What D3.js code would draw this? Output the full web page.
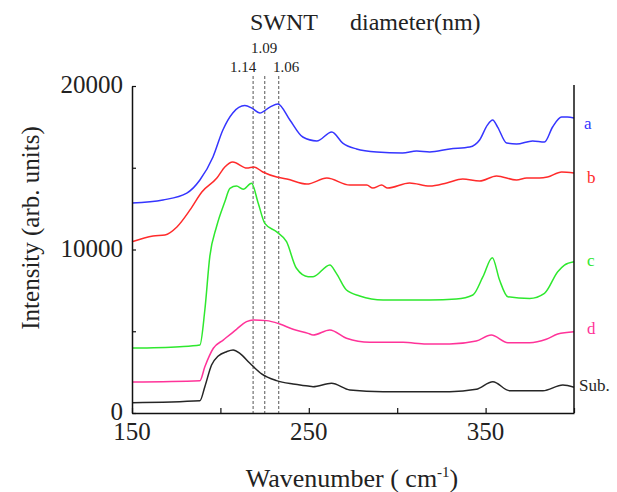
<!DOCTYPE html>
<html>
<head>
<meta charset="utf-8">
<script src="https://cdn.jsdelivr.net/npm/d3@7"></script>
<style>
  body { margin: 0; background: #fff; }
  text { font-family: "Liberation Serif", "Times New Roman", serif; fill: #222; }
</style>
</head>
<body>
<svg id="chart" width="617" height="492"></svg>
<script>
// DATA: wavenumber (cm-1) / intensity pairs
var specA = [[150,12840],[167.5,13030],[181,13450],[188.4,14250],[195.8,15660],[201.4,17310],[207,18350],[213.8,18800],[217.8,18650],[222.3,18350],[228,18710],[232.5,18900],[239.3,17920],[246.6,16880],[254.5,16640],[263,17190],[269.2,16510],[277,16150],[288.4,15960],[303,15900],[311,16020],[318.4,15960],[329.7,16150],[341,16270],[346.6,16700],[351,17610],[354,17920],[356.8,17490],[361.9,16510],[367.5,16450],[376.6,16640],[383.3,16570],[387.9,17490],[393,18100],[396.3,18100],[400,18040]];
var specB = [[150,10470],[161.9,10830],[168.6,10890],[175.4,11380],[182.8,12420],[189.5,13520],[198,14370],[202.5,15050],[207,15350],[215,14980],[218.9,15050],[224,14740],[231.9,14430],[237.6,14310],[248.9,14000],[260.2,14370],[273.2,13940],[282.8,13940],[286.2,13760],[291.2,13940],[294.6,13760],[307,14070],[318.4,13880],[328,14070],[337,14310],[346.6,14190],[356.2,14500],[367.5,14250],[373.2,14370],[380.5,14370],[385,14430],[393,14740],[400,14680]];
var specC = [[150,3970],[177,4055],[188.4,4160],[191.2,6300],[194,9560],[197.8,11390],[202.5,12920],[205.4,13740],[209.1,13880],[212.9,13680],[217.6,14050],[221.4,12830],[225.1,11600],[231.7,11090],[237.4,10480],[243,8850],[249.6,8340],[252.4,8340],[261.9,9050],[265.6,8540],[271.3,7520],[278.8,7160],[292,6910],[318.4,6910],[333.4,6970],[342.8,7220],[348.5,8340],[353.8,9500],[357.9,8130],[362.6,7110],[374.9,7010],[383.3,7320],[390.8,8640],[394.6,9050],[400,9250]];
var specD = [[150,1900],[188.4,1980],[191.2,2830],[196,3960],[201.6,4460],[209.1,5120],[214.8,5590],[218.5,5690],[226.1,5650],[233.6,5440],[241.1,5120],[249.6,4870],[252.4,4770],[261.9,5080],[271.3,4570],[284.5,4320],[303.3,4320],[316.5,4220],[329.7,4220],[344.7,4400],[353.2,4770],[362.6,4300],[374.9,4300],[384.3,4510],[390.8,4830],[400,4970]];
var specSub = [[150,630],[188.4,750],[191.2,1610],[195,2940],[198.8,3490],[203.5,3750],[207.2,3850],[211,3650],[216.7,3040],[223.3,2390],[231.7,1980],[241.1,1770],[249.6,1650],[252.4,1610],[262.8,1820],[273.2,1410],[292,1300],[329.7,1300],[344.7,1450],[354.1,1910],[363.6,1360],[382.4,1360],[393.7,1710],[400,1570]];

var seriesNames = ["a", "b", "c", "d", "Sub."];
var seriesColors = ["#3535ff", "#ff2b2b", "#2ee82e", "#ff3399", "#262626"];
var seriesData = [specA, specB, specC, specD, specSub];

var diameters = ["1.14", "1.09", "1.06"];
var rbmPositions = [218.5, 225.1, 233];

var xTicks = [150, 200, 250, 300, 350, 400];
var xLabels = [150, 250, 350];
var yTicks = [0, 5000, 10000, 15000, 20000];
var yLabels = [0, 10000, 20000];

// SETUP
var svg = d3.select("#chart"),
    margin = {top: 86, right: 43, bottom: 79, left: 132},
    width = 617 - margin.left - margin.right,
    height = 492 - margin.top - margin.bottom;

var x = d3.scaleLinear().domain([150, 400]).range([margin.left, margin.left + width]);
var y = d3.scaleLinear().domain([0, 20000]).range([margin.top + height, margin.top]);

var line = d3.line()
    .x(function(d) { return x(d[0]); })
    .y(function(d) { return y(d[1]); })
    .curve(d3.curveMonotoneX);

// dashed marker lines for the RBM positions
svg.selectAll(".rbm")
    .data(rbmPositions)
  .enter().append("line")
    .attr("class", "rbm")
    .attr("x1", function(d) { return x(d); })
    .attr("x2", function(d) { return x(d); })
    .attr("y1", 76)
    .attr("y2", y(0))
    .attr("stroke", "#555")
    .attr("stroke-width", 1)
    .attr("stroke-dasharray", "3,2");

// spectra
svg.selectAll(".spec")
    .data(seriesData)
  .enter().append("path")
    .attr("class", "spec")
    .attr("fill", "none")
    .attr("stroke", function(d, i) { return seriesColors[i]; })
    .attr("stroke-width", 1.5)
    .attr("d", line);

// series labels at right
var labelY = [129, 183, 266, 334, 391];
var labelX = [584, 587, 587, 587, 579];
svg.selectAll(".slabel")
    .data(seriesNames)
  .enter().append("text")
    .attr("class", "slabel")
    .attr("x", function(d, i) { return labelX[i]; })
    .attr("y", function(d, i) { return labelY[i]; })
    .style("fill", function(d, i) { return seriesColors[i]; })
    .style("font-size", "17px")
    .text(function(d) { return d; });

// axes
var xAxis = svg.append("g")
    .attr("transform", "translate(0," + y(0) + ")")
    .call(d3.axisBottom(x).tickValues(xTicks).tickSizeInner(-5).tickSizeOuter(0).tickFormat(""));
var yAxis = svg.append("g")
    .attr("transform", "translate(" + x(150) + ",0)")
    .call(d3.axisLeft(y).tickValues(yTicks).tickSizeInner(-4).tickSizeOuter(0).tickFormat(""));
svg.selectAll(".domain").attr("stroke", "#111").attr("stroke-width", 1.5);
svg.selectAll(".tick line").attr("stroke", "#111").attr("stroke-width", 1.2);

// right frame line
svg.append("line")
    .attr("x1", x(400)).attr("x2", x(400))
    .attr("y1", y(20000) - 1).attr("y2", y(0))
    .attr("stroke", "#111").attr("stroke-width", 1.5);

svg.selectAll(".xlab")
    .data(xLabels)
  .enter().append("text")
    .attr("x", function(d) { return x(d); })
    .attr("y", y(0) + 27)
    .attr("text-anchor", "middle")
    .style("font-size", "25px")
    .text(function(d) { return d; });

svg.selectAll(".ylab")
    .data(yLabels)
  .enter().append("text")
    .attr("x", x(150) - 9)
    .attr("y", function(d) { return y(d) + 7; })
    .attr("text-anchor", "end")
    .style("font-size", "25px")
    .text(function(d) { return d; });

// axis titles
svg.append("text")
    .attr("transform", "translate(39,228) rotate(-90)")
    .attr("text-anchor", "middle")
    .style("font-size", "25px")
    .text("Intensity (arb. units)");

var xt = svg.append("text")
    .attr("x", 352)
    .attr("y", 487)
    .attr("text-anchor", "middle")
    .style("font-size", "26px");
xt.append("tspan").text("Wavenumber ( cm");
xt.append("tspan").attr("dy", -10).style("font-size", "15px").text("-1");
xt.append("tspan").attr("dy", 10).text(")");

// header annotations
svg.append("text").attr("x", 250).attr("y", 30).style("font-size", "24px").text("SWNT");
svg.append("text").attr("x", 350).attr("y", 30).style("font-size", "24px").text("diameter(nm)");

var diamLabelX = [243, 264, 286];
var diamLabelY = [72, 53, 72];
svg.selectAll(".dlab")
    .data(diameters)
  .enter().append("text")
    .attr("x", function(d, i) { return diamLabelX[i]; })
    .attr("y", function(d, i) { return diamLabelY[i]; })
    .attr("text-anchor", "middle")
    .style("font-size", "15px")
    .text(function(d) { return d; });
</script>
</body>
</html>
